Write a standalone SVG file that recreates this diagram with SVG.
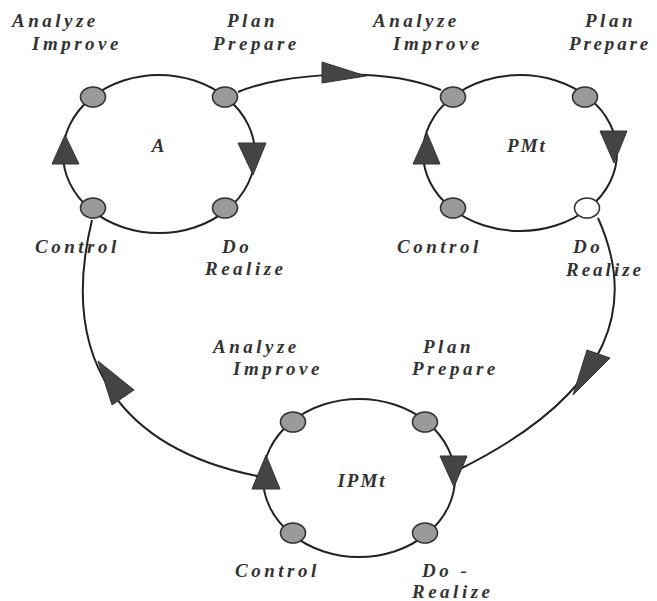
<svg xmlns="http://www.w3.org/2000/svg" width="657" height="601" viewBox="0 0 657 601">
<style>
.ring{fill:none;stroke:#222;stroke-width:2}
.nd{fill:#9a9a9a;stroke:#333;stroke-width:1.6}
.nd.open{fill:#fff}
.ar{fill:#444;stroke:#333;stroke-width:1}
.cn{fill:none;stroke:#222;stroke-width:2}
.lb{font-family:"Liberation Serif","Times New Roman",serif;font-style:italic;font-weight:bold;font-size:19px;letter-spacing:3.5px;fill:#333}
.ti{font-family:"Liberation Serif","Times New Roman",serif;font-style:italic;font-weight:bold;font-size:19px;letter-spacing:2px;fill:#333;text-anchor:middle}
</style>
<rect width="657" height="601" fill="#fff"/>
<g id="connectors">
<path class="cn" d="M 238 92 C 280 74, 380 65, 441 90"/>
<polygon class="ar" points="322,62 322,83 366,76"/>
<path class="cn" d="M 598 218 C 635 300, 620 390, 458 470"/>
<polygon class="ar" points="587,350 610,358 573,395"/>
<path class="cn" d="M 92 220 C 58 360, 120 450, 262 477"/>
<polygon class="ar" points="98,361 134,390 112,405"/>
</g>
<g id="cycle-A">
<ellipse class="ring" cx="159" cy="154" rx="96" ry="79"/>
<ellipse class="nd" cx="93" cy="97" rx="12.5" ry="10"/>
<ellipse class="nd" cx="225" cy="97" rx="12.5" ry="10"/>
<ellipse class="nd" cx="93" cy="208" rx="12.5" ry="10"/>
<ellipse class="nd" cx="225" cy="208" rx="12.5" ry="10"/>
<polygon class="ar" points="52,164 79,164 65,135"/>
<polygon class="ar" points="238,143 266,143 253,175"/>
<text class="ti" x="159" y="152">A</text>
<text class="lb" x="12" y="27">Analyze</text>
<text class="lb" x="32" y="50">Improve</text>
<text class="lb" x="227" y="27">Plan</text>
<text class="lb" x="213" y="50">Prepare</text>
<text class="lb" x="35" y="253">Control</text>
<text class="lb" x="222" y="253">Do</text>
<text class="lb" x="205" y="275">Realize</text>
</g>
<g id="cycle-PMt">
<ellipse class="ring" cx="520" cy="153" rx="97" ry="78"/>
<ellipse class="nd" cx="453" cy="97" rx="12.5" ry="10"/>
<ellipse class="nd" cx="585" cy="97" rx="12.5" ry="10"/>
<ellipse class="nd" cx="453" cy="208" rx="12.5" ry="10"/>
<ellipse class="nd open" cx="587" cy="208" rx="12.5" ry="10"/>
<polygon class="ar" points="413,164 440,164 427,133"/>
<polygon class="ar" points="600,131 627,131 614,163"/>
<text class="ti" x="527" y="152">PMt</text>
<text class="lb" x="373" y="27">Analyze</text>
<text class="lb" x="393" y="50">Improve</text>
<text class="lb" x="585" y="27">Plan</text>
<text class="lb" x="569" y="50" style="letter-spacing:2.8px">Prepare</text>
<text class="lb" x="397" y="253">Control</text>
<text class="lb" x="573" y="253">Do</text>
<text class="lb" x="566" y="276" style="letter-spacing:3px">Realize</text>
</g>
<g id="cycle-IPMt">
<ellipse class="ring" cx="359" cy="478" rx="96" ry="79"/>
<ellipse class="nd" cx="293" cy="422" rx="12.5" ry="10"/>
<ellipse class="nd" cx="425" cy="422" rx="12.5" ry="10"/>
<ellipse class="nd" cx="293" cy="533" rx="12.5" ry="10"/>
<ellipse class="nd" cx="425" cy="533" rx="12.5" ry="10"/>
<polygon class="ar" points="252,489 280,489 266,455"/>
<polygon class="ar" points="440,456 467,456 454,487"/>
<text class="ti" x="362" y="487">IPMt</text>
<text class="lb" x="213" y="353">Analyze</text>
<text class="lb" x="233" y="375">Improve</text>
<text class="lb" x="423" y="353">Plan</text>
<text class="lb" x="412" y="375">Prepare</text>
<text class="lb" x="235" y="577">Control</text>
<text class="lb" x="422" y="577">Do -</text>
<text class="lb" x="412" y="598">Realize</text>
</g>
</svg>
